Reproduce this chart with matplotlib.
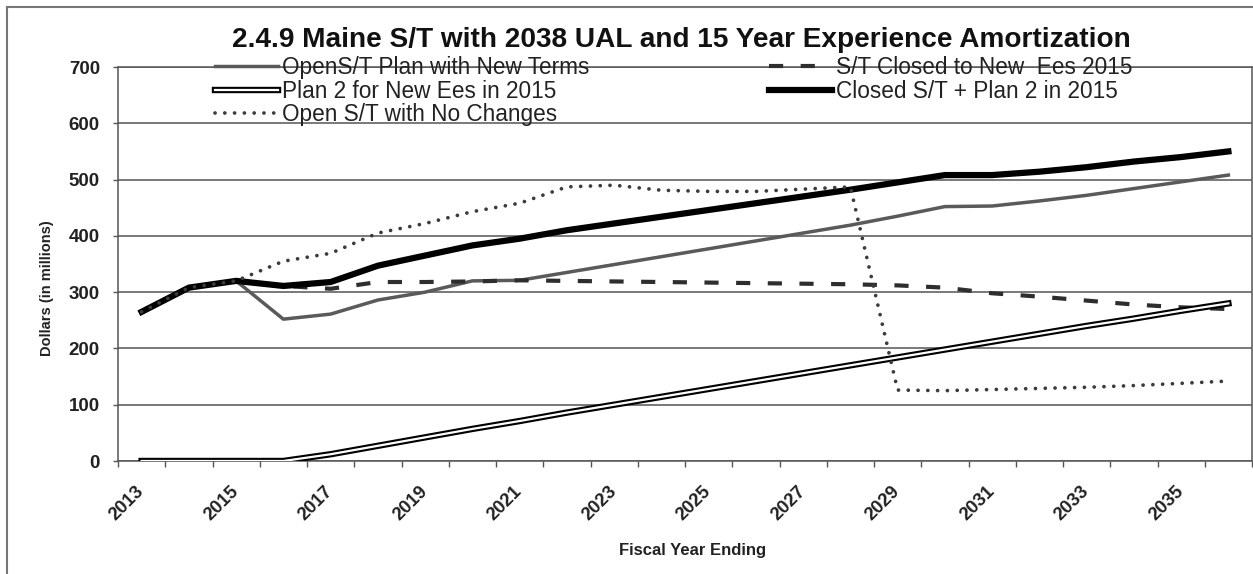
import numpy as np
import matplotlib
matplotlib.use("Agg")
import matplotlib.pyplot as plt
import matplotlib.patheffects as pe
from matplotlib.lines import Line2D

plt.rcParams['font.family'] = ['Liberation Sans', 'DejaVu Sans']

years = list(range(2013, 2037))
year_labels = [str(y) for y in years[::2]]

open_new_terms = [265, 308, 320, 252, 261, 286, 300, 320, 321, 335, 349, 363,
                  377, 391, 405, 419, 435, 452, 453, 462, 472, 484, 496, 508]
st_closed_2015 = [265, 308, 320, 311, 306, 318, 318, 319, 321, 320, 319, 318,
                  317, 316, 315, 314, 312, 308, 298, 292, 285, 278, 273, 270]
plan2_new_ees = [0, 0, 0, 0, 12, 27, 42, 57, 71, 86, 100, 114,
                 128, 142, 156, 170, 184, 198, 212, 226, 240, 253, 267, 280]
closed_plus_plan2 = [265, 308, 320, 311, 318, 347, 365, 383, 395, 410, 422, 434,
                     446, 458, 470, 482, 495, 508, 508, 514, 522, 532, 540, 550]
open_no_changes = [265, 308, 320, 355, 369, 405, 422, 443, 458, 487, 490, 481,
                   479, 479, 483, 487, 126, 125, 127, 129, 131, 134, 138, 142]

labels = ["OpenS/T Plan with New Terms", "S/T Closed to New  Ees 2015",
          "Plan 2 for New Ees in 2015", "Closed S/T + Plan 2 in 2015",
          "Open S/T with No Changes"]

W, H = 1253, 574
fig = plt.figure(figsize=(W / 100, H / 100), dpi=100)
fig.patch.set_facecolor('white')

def fx(px):
    return px / W

def fy(py):
    return 1 - py / H

ax_l, ax_r, ax_t, ax_b = 118, 1252, 67, 461
ax = fig.add_axes([fx(ax_l), fy(ax_b), (ax_r - ax_l) / W, (ax_b - ax_t) / H])

x = np.arange(len(years))

l1, = ax.plot(x, open_new_terms, color='#5a5a5a', lw=2.5, solid_joinstyle='round', zorder=3)
l2, = ax.plot(x, st_closed_2015, color='#2e2e2e', lw=3.0, linestyle=(0, (3.4, 4.2)), zorder=4)
l3, = ax.plot(x, plan2_new_ees, color='white', lw=1.6, zorder=5,
              path_effects=[pe.Stroke(linewidth=4.6, foreground='black'), pe.Normal()])
l4, = ax.plot(x, closed_plus_plan2, color='black', lw=4.5, solid_joinstyle='round', zorder=6)
l5, = ax.plot(x, open_no_changes, color='#3c3c3c', lw=2.7, linestyle=(0, (0.01, 2.6)),
              dash_capstyle='round', zorder=7)

ax.set_xlim(-0.5, len(years) - 0.5)
ax.set_ylim(0, 700)
ax.set_yticks(np.arange(0, 701, 100))
ax.yaxis.grid(True, color='#555555', lw=1.1)
ax.set_axisbelow(True)
ax.tick_params(axis='y', direction='out', length=3.6, width=1.0, color='#555555',
               pad=9.4, labelsize=13.5)
for t in ax.get_yticklabels():
    t.set_fontweight('bold')
    t.set_color('#222222')

ax.set_xticks(np.arange(-0.5, len(years), 1.0))
ax.set_xticklabels([])
ax.tick_params(axis='x', which='major', direction='out', length=4, width=1.0, color='#555555')
ax.set_xticks(x[::2], minor=True)
ax.set_xticklabels(year_labels, minor=True, rotation=45, ha='right', va='center',
                   rotation_mode='anchor', fontsize=13.3, fontweight='bold', color='#222222')
ax.tick_params(axis='x', which='minor', length=0, pad=20)

for s in ['left', 'bottom', 'right', 'top']:
    ax.spines[s].set_color('#555555')
    ax.spines[s].set_linewidth(1.1)

# legends
leg_kw = dict(loc='upper left', bbox_transform=fig.transFigure, frameon=False,
              fontsize=16.3, handlelength=2.8, handletextpad=0.15, labelspacing=0.03,
              borderpad=0, borderaxespad=0)
leg1 = ax.legend([l1, l3, l5], [labels[0], labels[2], labels[4]],
                 bbox_to_anchor=(fx(215), fy(56)), **leg_kw)
ax.add_artist(leg1)
leg2 = ax.legend([l2, l4], [labels[1], labels[3]],
                 bbox_to_anchor=(fx(769), fy(56)), **leg_kw)
for leg in (leg1, leg2):
    for t in leg.get_texts():
        t.set_color('#222222')

fig.text(fx(681), fy(40), "2.4.9 Maine S/T with 2038 UAL and 15 Year Experience Amortization",
         ha='center', va='center', fontsize=20.2, fontweight='bold', color='#111111')
fig.text(fx(47), fy(288), "Dollars (in millions)", rotation=90, ha='center', va='center',
         fontsize=10.5, fontweight='bold', color='#222222')
fig.text(fx(693), fy(550), "Fiscal Year Ending", ha='center', va='center',
         fontsize=12, fontweight='bold', color='#222222')

# outer chart border (left and top visible)
fig.add_artist(Line2D([fx(7), fx(7)], [fy(7), fy(H + 5)], transform=fig.transFigure,
                      color='#777777', lw=1.5))
fig.add_artist(Line2D([fx(7), fx(W + 5)], [fy(7), fy(7)], transform=fig.transFigure,
                      color='#777777', lw=1.5))

fig.savefig("out.png", dpi=100)
